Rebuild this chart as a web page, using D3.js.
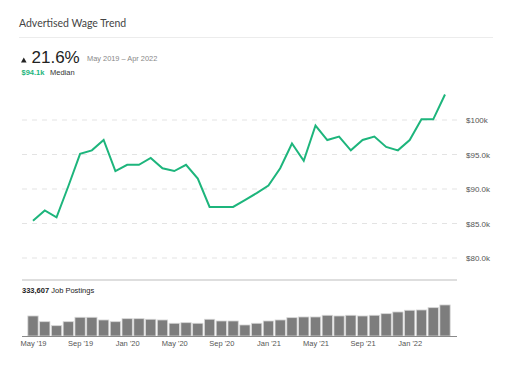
<!DOCTYPE html>
<html>
  <head>
    <script src="https://d3js.org/d3.v7.min.js"></script>
    <style>
      body { margin: 0; background: #fff; }
      .grid line { stroke: #e3e3e3; stroke-dasharray: 5,5; }
      .yaxis text { font-family: "Liberation Sans", Arial, sans-serif; font-size: 8px; fill: #555; }
      .xaxis text { font-family: "Liberation Sans", Arial, sans-serif; font-size: 7.5px; fill: #555; }
    </style>
  </head>
  <body>
    <script>

      // monthly, May 2019 - Apr 2022
      const months = d3.range(36).map(i => new Date(2019, 4 + i, 1));

      // advertised median wage, $k
      const wage = [
        85.4, 86.9, 85.9, 90.4, 95.1, 95.6, 97.1, 92.6, 93.5, 93.5, 94.5, 93.0,
        92.6, 93.5, 91.5, 87.4, 87.4, 87.4, 88.4, 89.4, 90.5, 93.0, 96.6, 94.1,
        99.2, 97.1, 97.6, 95.6, 97.1, 97.6, 96.1, 95.6, 97.1, 100.1, 100.1, 103.7
      ];

      // job postings per month
      const postings = [
        10270, 7340, 5290, 7340, 9600, 9600, 8220, 7340, 8880, 8880, 8580, 8220,
        6520, 6830, 6520, 8580, 7700, 7700, 5650, 6520, 7700, 8220, 9400, 9760,
        9760, 10630, 10270, 10630, 10270, 10630, 11450, 12320, 13200, 13350, 14530, 15920
      ];

      const wageTicks = [80, 85, 90, 95, 100];
      const wageTickLabels = ['$80.0k', '$85.0k', '$90.0k', '$95.0k', '$100k'];
      const dateTicks = [0, 4, 8, 12, 16, 20, 24, 28, 32];
      const dateTickLabels = ["May '19", "Sep '19", "Jan '20", "May '20", "Sep '20", "Jan '21", "May '21", "Sep '21", "Jan '22"];

      const width = 512;
      const height = 367;

      const svg = d3.select('body')
        .append('svg')
        .attr('width', width)
        .attr('height', height);

      // header
      svg.append('text')
        .attr('x', 19).attr('y', 26.5)
        .attr('font-family', 'Lato, sans-serif')
        .attr('font-size', 10.5)
        .attr('fill', '#444')
        .text('Advertised Wage Trend');

      svg.append('line')
        .attr('x1', 19).attr('x2', 493)
        .attr('y1', 37.5).attr('y2', 37.5)
        .attr('stroke', '#ececec');

      svg.append('path')
        .attr('d', 'M21,62.5 L23.8,57.5 L26.6,62.5 Z')
        .attr('fill', '#222');

      svg.append('text')
        .attr('x', 31.5).attr('y', 63)
        .attr('font-family', '"Liberation Sans", Arial, sans-serif')
        .attr('font-size', 17)
        .attr('fill', '#222')
        .text('21.6%');

      svg.append('text')
        .attr('x', 87).attr('y', 60.5)
        .attr('font-family', '"Liberation Sans", Arial, sans-serif')
        .attr('font-size', 7.4)
        .attr('fill', '#888')
        .text('May 2019 \u2013 Apr 2022');

      svg.append('text')
        .attr('x', 21.5).attr('y', 75)
        .attr('font-family', '"Liberation Sans", Arial, sans-serif')
        .attr('font-size', 7.5)
        .attr('font-weight', 'bold')
        .attr('fill', '#1db57c')
        .text('$94.1k');

      svg.append('text')
        .attr('x', 50).attr('y', 75)
        .attr('font-family', '"Liberation Sans", Arial, sans-serif')
        .attr('font-size', 7.5)
        .attr('fill', '#333')
        .text('Median');

      // scales
      const x = d3.scaleLinear().domain([0, 35]).range([33, 445]);
      const y = d3.scaleLinear().domain([80, 100]).range([258, 120]);

      const grid = svg.append('g').attr('class', 'grid');
      grid.selectAll('line')
        .data(wageTicks)
        .join('line')
        .attr('x1', 22).attr('x2', 457)
        .attr('y1', d => y(d)).attr('y2', d => y(d));

      const yAxis = d3.axisRight(y)
        .tickValues(wageTicks)
        .tickFormat((d, i) => wageTickLabels[i])
        .tickSize(0)
        .tickPadding(0);

      svg.append('g')
        .attr('class', 'yaxis')
        .attr('transform', 'translate(466,0)')
        .call(yAxis)
        .call(g => g.select('.domain').remove());

      const line = d3.line()
        .x((d, i) => x(i))
        .y(d => y(d));

      svg.append('path')
        .datum(wage)
        .attr('d', line)
        .attr('fill', 'none')
        .attr('stroke', '#1db57c')
        .attr('stroke-width', 2)
        .attr('stroke-linejoin', 'miter');

      // postings panel
      svg.append('line')
        .attr('x1', 22).attr('x2', 457)
        .attr('y1', 280).attr('y2', 280)
        .attr('stroke', '#bdbdbd');

      const label = svg.append('text')
        .attr('x', 22).attr('y', 293)
        .attr('font-family', '"Liberation Sans", Arial, sans-serif')
        .attr('font-size', 7.5)
        .attr('fill', '#222');
      label.append('tspan').attr('font-weight', 'bold').text('333,607');
      label.append('tspan').text(' Job Postings');

      const yb = d3.scaleLinear().domain([0, 20000]).range([336, 297]);
      const bw = 10.3;

      svg.selectAll('.bar')
        .data(postings)
        .join('rect')
        .attr('class', 'bar')
        .attr('x', (d, i) => x(i) - bw / 2)
        .attr('y', d => yb(d))
        .attr('width', bw)
        .attr('height', d => yb(0) - yb(d))
        .attr('fill', '#7d7d7d')
        .attr('stroke', '#d6d6d6')
        .attr('stroke-width', 0.8);

      svg.append('line')
        .attr('x1', 22).attr('x2', 457)
        .attr('y1', 336.5).attr('y2', 336.5)
        .attr('stroke', '#8a8a8a');

      const xAxis = d3.axisBottom(x)
        .tickValues(dateTicks)
        .tickFormat((d, i) => dateTickLabels[i])
        .tickSize(0)
        .tickPadding(5);

      svg.append('g')
        .attr('class', 'xaxis')
        .attr('transform', 'translate(0,336)')
        .call(xAxis)
        .call(g => g.select('.domain').remove());

    </script>
  </body>
</html>
